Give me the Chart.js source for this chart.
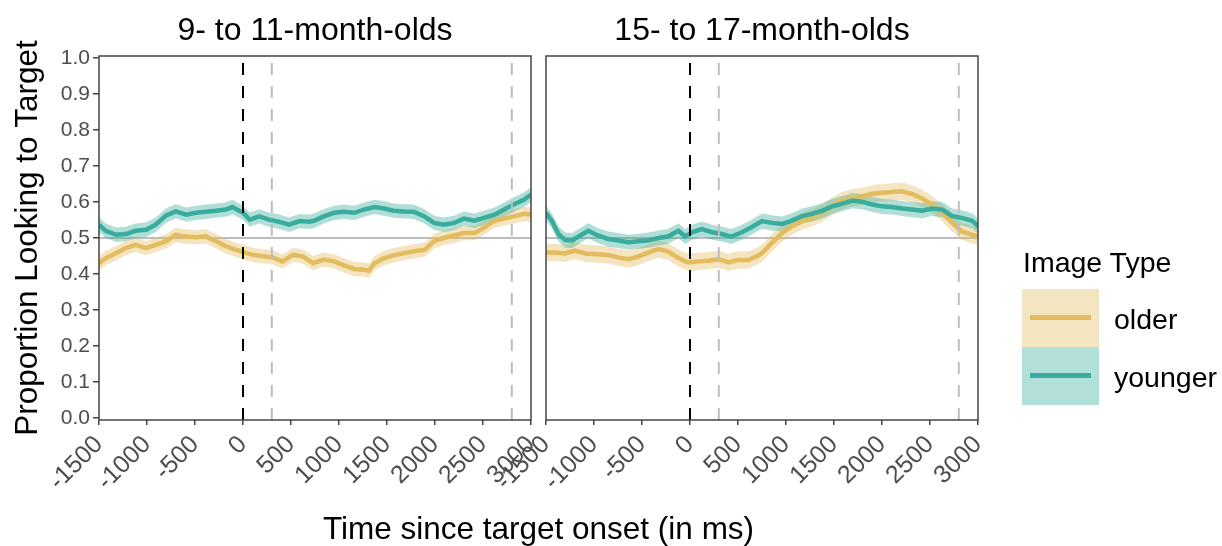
<!DOCTYPE html>
<html>
<head>
<meta charset="utf-8">
<title>Proportion looking to target</title>
<script src="https://cdn.jsdelivr.net/npm/chart.js@4.4.1/dist/chart.umd.min.js"></script>
<style>
  html, body { margin: 0; padding: 0; background: #fff; }
  body { width: 1222px; height: 546px; position: relative; overflow: hidden;
         font-family: "Liberation Sans", Arial, Helvetica, sans-serif; }
  canvas { position: absolute; top: 0; }
  #c1 { left: 0; }
  #c2 { left: 440px; }
  .txt { position: absolute; white-space: nowrap; color: #000; line-height: 1; }
  .ptitle { width: 432px; text-align: center; font-size: 32px; top: 13px; }
  .leg { font-size: 28.5px; }
  .key { position: absolute; left: 1022px; width: 77px; height: 58px; }
  .key i { position: absolute; left: 8px; right: 8px; top: 26px; height: 5px; }
</style>
</head>
<body>
<canvas id="c1" width="620" height="546"></canvas>
<canvas id="c2" width="620" height="546"></canvas>

<div class="txt ptitle" style="left:99px">9- to 11-month-olds</div>
<div class="txt ptitle" style="left:546px">15- to 17-month-olds</div>
<div class="txt" style="left:0;width:1077px;text-align:center;top:513px;font-size:31.5px;">Time since target onset (in ms)</div>

<div class="txt leg" style="left:1023px;top:248px;">Image Type</div>
<div class="key" style="top:289px;background:#F4E5C1"><i style="background:#E2BC5E"></i></div>
<div class="key" style="top:347px;background:#B1DFD9"><i style="background:#38AD9D"></i></div>
<div class="txt leg" style="left:1114px;top:305px;">older</div>
<div class="txt leg" style="left:1114px;top:363px;">younger</div>

<script>
// --- Data
const xTicks = [-1500, -1000, -500, 0, 500, 1000, 1500, 2000, 2500, 3000];
const yTicks = [0, 0.1, 0.2, 0.3, 0.4, 0.5, 0.6, 0.7, 0.8, 0.9, 1.0];
const seriesNames = ["older", "younger"];
const chanceLevel = 0.5;
const onsetLine = 0;
const windowLines = [300, 2800];

// 9- to 11-month-olds
const p1YoungT = [-1500,-1430,-1320,-1220,-1120,-1010,-910,-800,-700,-590,-490,-390,-280,-180,-110,0,70,170,270,380,480,590,690,740,840,950,1050,1160,1260,1370,1470,1570,1680,1780,1890,1990,2090,2200,2300,2410,2510,2620,2720,2820,2930,3000];
const p1YoungV = [0.537,0.52,0.509,0.511,0.52,0.523,0.537,0.563,0.574,0.565,0.57,0.573,0.576,0.579,0.586,0.57,0.551,0.56,0.551,0.545,0.537,0.547,0.545,0.548,0.56,0.57,0.573,0.57,0.579,0.586,0.582,0.576,0.574,0.573,0.56,0.542,0.537,0.542,0.554,0.548,0.556,0.565,0.579,0.593,0.607,0.621];
const p1OldT = [-1500,-1430,-1320,-1220,-1120,-1010,-910,-800,-700,-630,-490,-390,-280,-180,-70,0,100,210,310,410,520,620,730,840,950,1050,1160,1260,1310,1370,1470,1570,1680,1780,1890,1990,2090,2200,2300,2410,2510,2620,2720,2820,2930,3000];
const p1OldV = [0.43,0.444,0.458,0.472,0.481,0.472,0.481,0.491,0.509,0.505,0.502,0.505,0.491,0.477,0.467,0.461,0.453,0.449,0.446,0.435,0.453,0.449,0.43,0.44,0.435,0.424,0.414,0.412,0.409,0.43,0.444,0.452,0.458,0.463,0.467,0.491,0.5,0.507,0.514,0.514,0.528,0.548,0.554,0.56,0.567,0.565];

// 15- to 17-month-olds
const p2YoungT = [-1500,-1440,-1370,-1300,-1230,-1160,-1060,-960,-850,-750,-640,-540,-430,-330,-230,-120,-50,20,120,230,330,430,540,640,750,850,960,1060,1170,1270,1380,1480,1580,1690,1790,1900,2000,2100,2210,2310,2420,2520,2630,2730,2830,2940,3000];
const p2YoungV = [0.57,0.548,0.511,0.494,0.493,0.504,0.52,0.507,0.497,0.493,0.488,0.491,0.494,0.5,0.504,0.52,0.504,0.516,0.525,0.516,0.511,0.504,0.516,0.53,0.547,0.542,0.539,0.548,0.561,0.567,0.576,0.588,0.595,0.604,0.601,0.593,0.588,0.586,0.582,0.579,0.576,0.582,0.579,0.561,0.556,0.548,0.533];
const p2OldT = [-1500,-1410,-1300,-1200,-1090,-960,-850,-750,-640,-540,-430,-330,-230,-120,-20,90,190,300,400,500,610,710,760,850,960,1060,1170,1270,1380,1480,1580,1690,1790,1900,2000,2100,2210,2310,2420,2520,2630,2730,2830,2940,3000];
const p2OldV = [0.46,0.46,0.457,0.465,0.457,0.455,0.453,0.446,0.441,0.448,0.46,0.469,0.463,0.444,0.432,0.435,0.437,0.441,0.432,0.439,0.439,0.451,0.46,0.486,0.514,0.533,0.547,0.556,0.57,0.588,0.604,0.612,0.616,0.623,0.626,0.628,0.63,0.623,0.61,0.593,0.57,0.542,0.519,0.509,0.505];

// ribbon half-widths (standard error band)
const p1YoungSE = 0.02, p1OldSE = 0.02, p2YoungSE = 0.021, p2OldSE = 0.024;

// --- Styling
const X_MIN = -1500, X_MAX = 3000;
const Y_MIN = -0.006, Y_MAX = 1.006;
const OLD_LINE = "#E2BC5E", OLD_FILL = "rgba(227,190,98,0.40)";
const YOUNG_LINE = "#38AD9D", YOUNG_FILL = "rgba(59,174,158,0.40)";
const FRAME = "#444", TICK_TXT = "#4D4D4D";
const FONT = "'Liberation Sans', Arial, Helvetica, sans-serif";

function pts(ts, vs, d){
  return ts.map((t, i) => ({ x: t, y: vs[i] + d }));
}

function vline(x, color){
  return { data: [{ x, y: Y_MIN }, { x, y: Y_MAX }], borderColor: color, borderWidth: 2,
           borderDash: [12, 11], order: 0, fill: false };
}

function buildDatasets(youngT, youngV, youngSE, oldT, oldV, oldSE){
  return [
    vline(onsetLine, "#000"),
    vline(windowLines[0], "#BEBEBE"),
    vline(windowLines[1], "#BEBEBE"),
    { label: seriesNames[1], data: pts(youngT, youngV, 0), borderColor: YOUNG_LINE, borderWidth: 4.5, order: 1, fill: false },
    { label: seriesNames[0], data: pts(oldT, oldV, 0), borderColor: OLD_LINE, borderWidth: 4.5, order: 2, fill: false },
    { data: pts(oldT, oldV, -oldSE), borderWidth: 0, order: 4, fill: false },
    { data: pts(oldT, oldV, oldSE), borderWidth: 0, order: 4, fill: "-1", backgroundColor: OLD_FILL },
    { data: pts(youngT, youngV, -youngSE), borderWidth: 0, order: 3, fill: false },
    { data: pts(youngT, youngV, youngSE), borderWidth: 0, order: 3, fill: "-1", backgroundColor: YOUNG_FILL },
    { data: [{ x: X_MIN, y: chanceLevel }, { x: X_MAX, y: chanceLevel }], borderColor: "#BDBDBD", borderWidth: 2, order: 5, fill: false }
  ];
}

const frame = {
  id: "frame",
  afterDatasetsDraw(chart){
    const a = chart.chartArea, ctx = chart.ctx;
    ctx.save();
    ctx.strokeStyle = FRAME;
    ctx.lineWidth = 1.5;
    ctx.strokeRect(a.left, a.top, a.right - a.left, a.bottom - a.top);
    ctx.restore();
  }
};

function makeChart(id, datasets, showY, padLeft, padRight){
  return new Chart(document.getElementById(id), {
    type: "line",
    data: { datasets },
    plugins: [frame],
    options: {
      responsive: false,
      animation: false,
      layout: { padding: { left: padLeft, right: padRight, top: 56, bottom: 0 } },
      elements: { point: { radius: 0 }, line: { tension: 0, borderCapStyle: "butt" } },
      plugins: { legend: { display: false }, tooltip: { enabled: false } },
      scales: {
        x: {
          type: "linear", min: X_MIN, max: X_MAX,
          afterBuildTicks: s => { s.ticks = xTicks.map(v => ({ value: v })); },
          afterFit: s => { s.height = 126; },
          border: { display: false },
          grid: { drawOnChartArea: false, drawTicks: true, tickLength: 5, color: FRAME, lineWidth: 1.5 },
          ticks: { autoSkip: false, minRotation: 45, maxRotation: 45, padding: 5, color: TICK_TXT,
                   font: { family: FONT, size: 25 }, callback: v => String(v) }
        },
        y: {
          type: "linear", min: Y_MIN, max: Y_MAX, display: showY,
          afterBuildTicks: s => { s.ticks = yTicks.map(v => ({ value: v })); },
          afterFit: s => { if (showY) s.width = 99; },
          border: { display: false },
          grid: { drawOnChartArea: false, drawTicks: true, tickLength: 6, color: FRAME, lineWidth: 1.5 },
          title: { display: true, text: "Proportion Looking to Target", color: "#000",
                   font: { family: FONT, size: 31.5 }, padding: { top: 9.5, bottom: 0 } },
          ticks: { padding: 3, color: TICK_TXT, font: { family: FONT, size: 21 }, callback: v => v.toFixed(1) }
        }
      }
    }
  });
}

// canvas 1: plot area 99..531, canvas 2 (left 440): plot area 546..978
makeChart("c1", buildDatasets(p1YoungT, p1YoungV, p1YoungSE, p1OldT, p1OldV, p1OldSE), true, 0, 89);
makeChart("c2", buildDatasets(p2YoungT, p2YoungV, p2YoungSE, p2OldT, p2OldV, p2OldSE), false, 106, 82);
</script>
</body>
</html>
